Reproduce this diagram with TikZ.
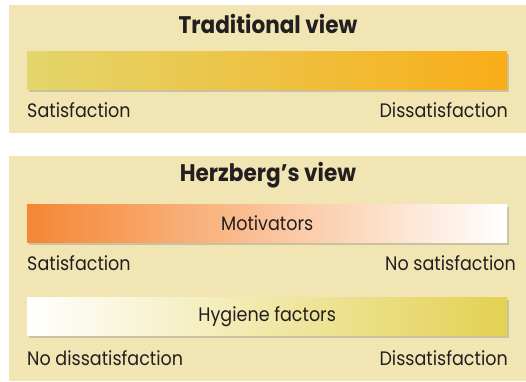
\documentclass[tikz,border=0pt]{standalone}
\usepackage{fontspec}
\setmainfont[FakeStretch=0.9]{Poppins}
\usepackage{tikz}
\usetikzlibrary{shadows}

\definecolor{panel}{HTML}{F1E6B3}
\definecolor{oldleft}{HTML}{E3D66C}
\definecolor{oldright}{HTML}{F9AD18}
\definecolor{motiv}{HTML}{F58634}
\definecolor{hyg}{HTML}{E3D152}
\definecolor{txt}{HTML}{231F20}

\tikzset{
  bar/.style={minimum width=480pt, minimum height=38pt, inner sep=0pt, anchor=north west,
    drop shadow={opacity=0.35, shadow xshift=2pt, shadow yshift=-2.5pt}, font=\fontsize{19.5}{21}\selectfont, text=txt},
  lbl/.style={inner sep=0pt, font=\fontsize{19.5}{21}\selectfont, text=txt},
  head/.style={inner sep=0pt, font=\bfseries\fontsize{24}{26}\selectfont, text=txt}
}

\begin{document}
\begin{tikzpicture}[x=1pt,y=-1pt]
		\useasboundingbox (0,0) rectangle (526,381);
		\fill[white] (0,0) rectangle (526,381);
		% traditional view
		\fill[panel] (9,5) rectangle (526,133);
		\node[head] (oldtitle) at (268,24) {Traditional view};
		\node[bar, left color=oldleft, right color=oldright] (oldbar) at (27,51) {};
		\node[lbl, anchor=base west] (sat1) at (27,117) {Satisfaction};
		\node[lbl, anchor=base east] (dis1) at (508,117) {Dissatisfaction};
		% Herzberg's view
		\fill[panel] (9,156) rectangle (526,381);
		\node[head] (newtitle) at (268,175) {Herzberg’s view};
		\node[bar, left color=motiv, right color=white] (motbar) at (27,204) {Motivators};
		\node[lbl, anchor=base west] (sat2) at (27,270) {Satisfaction};
		\node[lbl, anchor=base east] (nosat) at (516,270) {No satisfaction};
		\node[bar, left color=white, right color=hyg] (hygbar) at (27,297) {Hygiene factors};
		\node[lbl, anchor=base west] (nodis) at (27,365) {No dissatisfaction};
		\node[lbl, anchor=base east] (dis2) at (508,365) {Dissatisfaction};
\end{tikzpicture}
\end{document}
